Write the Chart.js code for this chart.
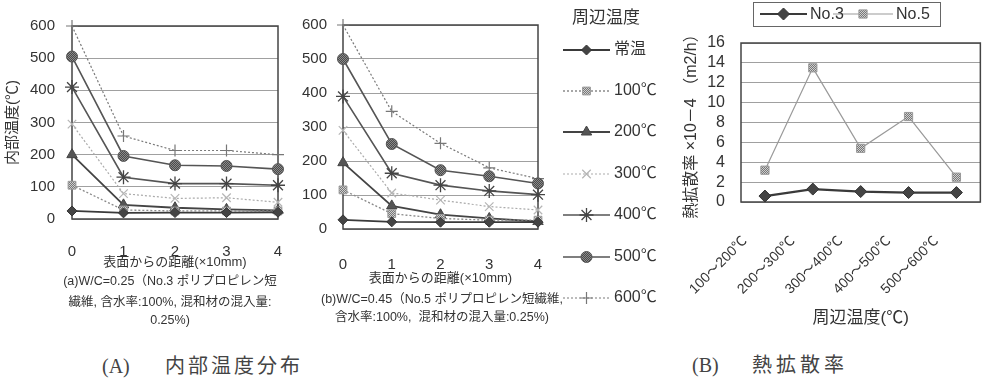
<!DOCTYPE html>
<html><head><meta charset="utf-8">
<script src="https://cdn.jsdelivr.net/npm/chart.js@4.4.0/dist/chart.umd.min.js"></script>
<style>
body{margin:0;width:992px;height:379px;background:#fff;position:relative;overflow:hidden;font-family:'Liberation Sans','Noto Sans CJK JP',sans-serif;color:#333}
canvas{position:absolute}
.t{position:absolute;white-space:nowrap;text-align:center;line-height:16px;font-size:12.5px;color:#333;width:300px}
.cap{position:absolute;white-space:nowrap;line-height:24px;font-size:20px;color:#444}
.ser{font-family:'Liberation Serif','Noto Sans CJK JP',serif}
</style></head><body>
<canvas id="ca" width="300" height="275" style="left:0;top:0"></canvas>
<canvas id="cb" width="390" height="330" style="left:290px;top:0"></canvas>
<canvas id="cc" width="332" height="330" style="left:660px;top:0"></canvas>

<div class="t" style="left:20px;top:273px">(a)W/C=0.25（No.3 ポリプロピレン短</div>
<div class="t" style="left:20px;top:294px">繊維, 含水率:100%, 混和材の混入量:</div>
<div class="t" style="left:20px;top:312px">0.25%)</div>
<div class="t" style="left:292px;top:291px">(b)W/C=0.45（No.5 ポリプロピレン短繊維,</div>
<div class="t" style="left:292px;top:309px">含水率:100%,&nbsp; 混和材の混入量:0.25%)</div>

<div class="cap ser" style="left:102px;top:354px">(A)</div>
<div class="cap" style="left:165px;top:354px;letter-spacing:3px">内部温度分布</div>
<div class="cap ser" style="left:692px;top:353px">(B)</div>
<div class="cap" style="left:752px;top:353px;letter-spacing:4px">熱拡散率</div>

<script>
// ---- data ----
const distLabels = ['0','1','2','3','4'];
const seriesNames = ['常温','100℃','200℃','300℃','400℃','500℃','600℃'];
const aRoom = [25,19,20,20,21];
const a100  = [105,28,25,25,25];
const a200  = [200,44,35,30,27];
const a300  = [295,79,64,66,52];
const a400  = [410,130,110,110,105];
const a500  = [505,196,167,165,155];
const a600  = [600,258,213,213,200];
const bRoom = [27,21,20,20,20];
const b100  = [115,45,31,26,26];
const b200  = [195,68,42,31,22];
const b300  = [290,106,85,66,56];
const b400  = [390,164,129,112,101];
const b500  = [500,250,173,155,134];
const b600  = [600,346,252,180,148];
const rangeLabels = ['100～200℃','200～300℃','300～400℃','400～500℃','500～600℃'];
const no3 = [0.6,1.3,1.05,0.95,0.95];
const no5 = [3.2,13.5,5.4,8.6,2.5];

// ---- styles ----
Chart.defaults.font.family = "'Liberation Sans','Noto Sans CJK JP',sans-serif";
Chart.defaults.color = '#333';
function checker(c1,c2){const p=document.createElement('canvas');p.width=p.height=2;const g=p.getContext('2d');g.fillStyle=c1;g.fillRect(0,0,2,2);g.fillStyle=c2;g.fillRect(0,0,1,1);g.fillRect(1,1,1,1);return g.createPattern(p,'repeat');}
const styles = [
 {line:'#3a3a3a', w:1.8, dash:[],    ps:'rectRot',  r:5,   fill:'#444', ps2:'#333', pw:1},
 {line:'#8a8a8a', w:1.3, dash:[2,2], ps:'rect',     r:5.5, fill:checker('#777','#cfcfcf'), ps2:'#999', pw:1},
 {line:'#444',    w:1.8, dash:[],    ps:'triangle', r:6,   fill:'#555', ps2:'#444', pw:1},
 {line:'#ababab', w:1.2, dash:[2,2], ps:'crossRot', r:6,   fill:'#bbb', ps2:'#b5b5b5', pw:1.2},
 {line:'#555',    w:1.6, dash:[],    ps:'star',     r:7,   fill:'#444', ps2:'#444', pw:1.3},
 {line:'#555',    w:1.6, dash:[],    ps:'circle',   r:5.5, fill:checker('#4a4a4a','#8a8a8a'), ps2:'#555', pw:1},
 {line:'#7a7a7a', w:1.2, dash:[2,2], ps:'cross',    r:6,   fill:'#777', ps2:'#777', pw:1.2}
];
function mkDs(arrs){
  return arrs.map((d,i)=>({label:seriesNames[i],data:d,borderColor:styles[i].line,borderWidth:styles[i].w,borderDash:styles[i].dash,
    pointStyle:styles[i].ps,pointRadius:styles[i].r,pointHoverRadius:styles[i].r,pointBackgroundColor:styles[i].fill,
    pointBorderColor:styles[i].ps2,pointBorderWidth:styles[i].pw,tension:0,clip:false,fill:false}));
}
const frame = {id:'frame', beforeDatasetsDraw(c){const a=c.chartArea,x=c.ctx;x.save();x.strokeStyle='#444';x.lineWidth=1.5;x.strokeRect(a.left,a.top,a.right-a.left,a.bottom-a.top);x.restore();}};
function sample(ctx, ds, x1, x2, y){
  ctx.save();
  ctx.strokeStyle=ds.borderColor;ctx.lineWidth=ds.borderWidth;ctx.setLineDash(ds.borderDash||[]);
  ctx.beginPath();ctx.moveTo(x1,y);ctx.lineTo(x2,y);ctx.stroke();ctx.setLineDash([]);
  ctx.fillStyle=ds.pointBackgroundColor;ctx.strokeStyle=ds.pointBorderColor;ctx.lineWidth=ds.pointBorderWidth;
  Chart.helpers.drawPoint(ctx,{pointStyle:ds.pointStyle,radius:ds.pointRadius,rotation:0,borderWidth:ds.pointBorderWidth},(x1+x2)/2,y);
  ctx.restore();
}
function yAxis(max,step,pad,fontSize,fam,title){
  const o={min:0,max:max,ticks:{stepSize:step,autoSkip:false,color:'#333',font:{size:fontSize,family:fam},padding:pad},
    grid:{color:'#a0a0a0',drawTicks:false,lineWidth:1},border:{display:false}};
  if(title) o.title=title;
  return o;
}

// ---- chart (a) ----
new Chart(document.getElementById('ca'),{
  type:'line', data:{labels:distLabels, datasets:mkDs([aRoom,a100,a200,a300,a400,a500,a600])},
  plugins:[frame],
  options:{responsive:false,animation:false,layout:{padding:{top:16,right:22,left:0,bottom:0}},
    plugins:{legend:{display:false},tooltip:{enabled:false}},
    scales:{
      x:{grid:{display:false},border:{display:false},ticks:{color:'#333',font:{size:15},padding:16},
         title:{display:true,text:'表面からの距離(×10mm)',color:'#333',font:{size:13},padding:{top:0,bottom:5}},
         afterFit:s=>{s.height=56;}},
      y:Object.assign(yAxis(600,100,17,15),{title:{display:true,text:'内部温度(℃)',color:'#333',font:{size:15},padding:{top:4,bottom:0}},afterFit:s=>{s.width=72;}})
    }}
});

// ---- chart (b) + legend of (A) ----
const legendA = {id:'legendA', afterDraw(c){
  const ctx=c.ctx; ctx.save();
  ctx.fillStyle='#333'; ctx.font="17px 'Noto Sans CJK JP'"; ctx.textAlign='center'; ctx.textBaseline='middle';
  ctx.fillText('周辺温度',316,17);
  const ys=[50,91,132,174,215,257,298];
  c.data.datasets.forEach((ds,i)=>{
    sample(ctx,ds,273,320,ys[i]);
    ctx.fillStyle='#333'; ctx.textAlign='left'; ctx.font="16px 'Liberation Sans','Noto Sans CJK JP'";
    ctx.fillText(ds.label,324,ys[i]);
  });
  ctx.restore();
}};
new Chart(document.getElementById('cb'),{
  type:'line', data:{labels:distLabels, datasets:mkDs([bRoom,b100,b200,b300,b400,b500,b600])},
  plugins:[frame,legendA],
  options:{responsive:false,animation:false,layout:{padding:{top:16,right:142,left:0,bottom:0}},
    plugins:{legend:{display:false},tooltip:{enabled:false}},
    scales:{
      x:{grid:{display:false},border:{display:false},ticks:{color:'#333',font:{size:15},padding:19},
         title:{display:true,text:'表面からの距離(×10mm)',color:'#333',font:{size:13},padding:{top:0,bottom:44}},
         afterFit:s=>{s.height=101;}},
      y:Object.assign(yAxis(600,100,16,15),{afterFit:s=>{s.width=53;}})
    }}
});

// ---- chart (B) ----
const legendC = {id:'legendC', afterDraw(c){
  const ctx=c.ctx; ctx.save();
  ctx.strokeStyle='#666'; ctx.lineWidth=1; ctx.strokeRect(93.5,2.5,187,24);
  const ds=c.data.datasets;
  sample(ctx,ds[0],100,147,14);
  sample(ctx,ds[1],173,233,14);
  ctx.fillStyle='#333'; ctx.font="16px 'Liberation Sans'"; ctx.textBaseline='middle'; ctx.textAlign='left';
  ctx.fillText(ds[0].label,150,15); ctx.fillText(ds[1].label,236,15);
  ctx.restore();
}};
new Chart(document.getElementById('cc'),{
  type:'line',
  data:{labels:rangeLabels, datasets:[
    {label:'No.3',data:no3,borderColor:'#3a3a3a',borderWidth:2.2,borderDash:[],pointStyle:'rectRot',pointRadius:6,pointHoverRadius:6,
     pointBackgroundColor:'#444',pointBorderColor:'#333',pointBorderWidth:1,tension:0,clip:false},
    {label:'No.5',data:no5,borderColor:'#9a9a9a',borderWidth:1.2,borderDash:[],pointStyle:'rect',pointRadius:5.8,pointHoverRadius:5.8,
     pointBackgroundColor:checker('#777','#cfcfcf'),pointBorderColor:'#999',pointBorderWidth:1,tension:0,clip:false}
  ]},
  plugins:[frame,legendC],
  options:{responsive:false,animation:false,layout:{padding:{top:43,right:4,left:0,bottom:0}},
    plugins:{legend:{display:false},tooltip:{enabled:false}},
    scales:{
      x:{offset:true,grid:{display:false},border:{display:false},
         ticks:{color:'#333',font:{size:14},padding:23,minRotation:45,maxRotation:45,autoSkip:false,labelOffset:-20},
         title:{display:true,text:'周辺温度(℃)',color:'#333',font:{size:17},padding:{top:0,bottom:1}},
         afterFit:s=>{s.height=128;}},
      y:Object.assign(yAxis(16,2,16,16,"'Liberation Sans Narrow','Liberation Sans'"),
        {title:{display:true,text:'熱拡散率 ×10－4 （m2/h）',color:'#333',font:{size:16},padding:{top:22,bottom:0}},afterFit:s=>{s.width=81;}})
    }}
});
</script>
</body></html>
